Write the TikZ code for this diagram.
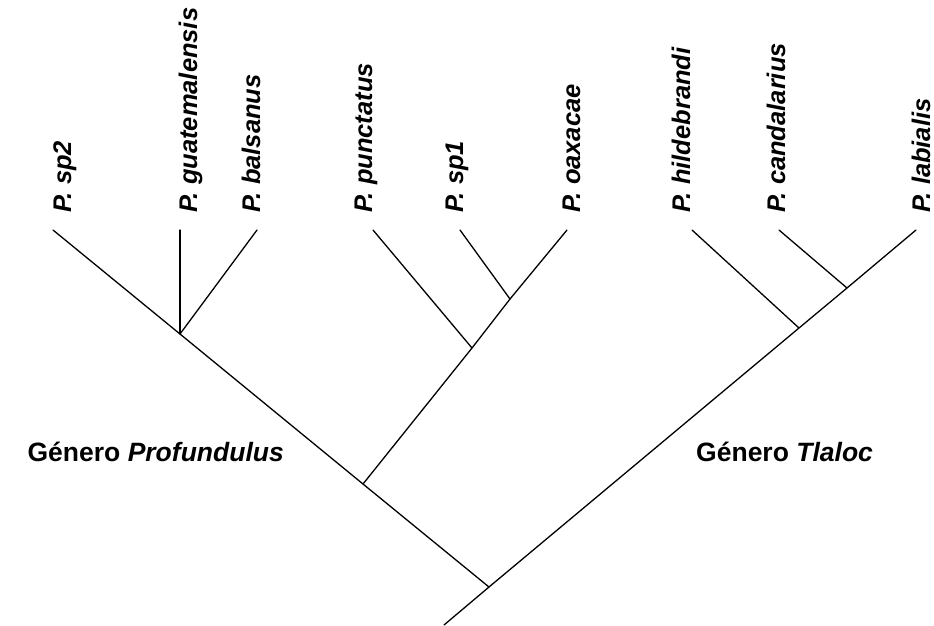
\documentclass[tikz,border=0pt]{standalone}
\usepackage{fontspec}
\setmainfont{Liberation Sans}
\begin{document}
\begin{tikzpicture}[x=1pt,y=-1pt,
  branch/.style={line width=1.3pt,line cap=round},
  species/.style={rotate=90,anchor=base west,inner sep=0pt,font=\fontsize{25.5}{27}\selectfont\bfseries\itshape},
  genus/.style={inner sep=0pt,font=\fontsize{26.5}{28}\selectfont\bfseries}]
\useasboundingbox (0,0) rectangle (934,625);
% tips
\coordinate (t1) at (53,230);
\coordinate (t2) at (180,230);
\coordinate (t3) at (257,230);
\coordinate (t4) at (373,230);
\coordinate (t5) at (460,230);
\coordinate (t6) at (567,230);
\coordinate (t7) at (692,230);
\coordinate (t8) at (779,230);
\coordinate (t9) at (916,230);
% internal nodes
\coordinate (root) at (489,587);
\coordinate (base) at (444,625);
\coordinate (nA) at (180,334);
\coordinate (nB) at (363,484);
\coordinate (nC) at (472,348);
\coordinate (nD) at (510,299);
\coordinate (nE) at (799,328);
\coordinate (nF) at (847,288);
% branches
\draw[branch] (base) -- (root);
\draw[branch] (t1) -- (nA) -- (nB) -- (root);
\draw[branch] (t2) -- (nA);
\draw[branch] (t3) -- (nA);
\draw[branch] (nB) -- (nC) -- (nD) -- (t6);
\draw[branch] (t4) -- (nC);
\draw[branch] (t5) -- (nD);
\draw[branch] (root) -- (nE) -- (nF) -- (t9);
\draw[branch] (t7) -- (nE);
\draw[branch] (t8) -- (nF);
% labels
\node[species] (l1) at (71,213) {P. sp2};
\node[species] (l2) at (197,213) {P. guatemalensis};
\node[species] (l3) at (260,213) {P. balsanus};
\node[species] (l4) at (372,213) {P. punctatus};
\node[species] (l5) at (463,213) {P. sp1};
\node[species] (l6) at (580,213) {P. oaxacae};
\node[species] (l7) at (690,213) {P. hildebrandi};
\node[species] (l8) at (785,213) {P. candalarius};
\node[species] (l9) at (930,213) {P. labialis};
\node[genus,anchor=base east] (g1) at (284,461) {Género \textit{Profundulus}};
\node[genus,anchor=base west] (g2) at (696,461) {Género \textit{Tlaloc}};
\end{tikzpicture}
\end{document}
